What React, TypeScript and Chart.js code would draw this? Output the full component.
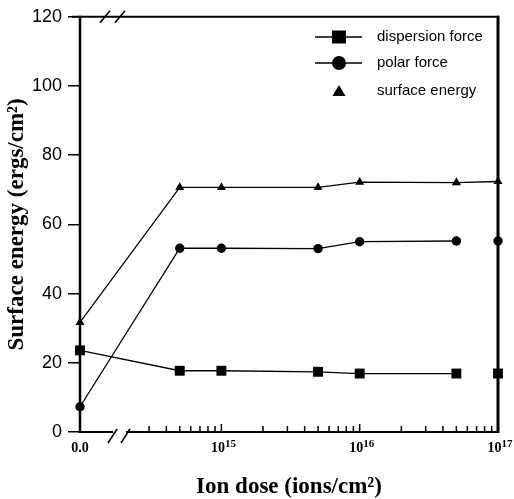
import { useEffect, useRef } from 'react';
import { Chart, registerables } from 'chart.js';

Chart.register(...registerables);

// ---- data ----
const doses = [0, 5e14, 1e15, 5e15, 1e16, 5e16, 1e17];
const dispersionForce = [23.6, 17.7, 17.7, 17.4, 16.9, 16.9, 16.9];
const polarForce = [7.3, 53.1, 53.1, 53.0, 55.0, 55.2, 55.2];
const surfaceEnergy = [31.7, 70.7, 70.7, 70.7, 72.2, 72.1, 72.4];
const yTicks = [0, 20, 40, 60, 80, 100, 120];
const xMajorTicks = [1e15, 1e16, 1e17];
const xMajorBases = ['10', '10', '10'];
const xMajorExponents = ['15', '16', '17'];
const xZeroLabel = '0.0';
const legendLabels = ['dispersion force', 'polar force', 'surface energy'];

// where the "0.0" dose sits on the broken log axis (left of the break)
const X_ZERO = 9.5e13;
const X_MAX = 1e17;

const SERIF = "'Liberation Serif', 'Times New Roman', serif";
const SANS = "'Liberation Sans', Arial, sans-serif";

const toPoints = (ys: number[]) =>
  doses.map((d, i) => ({ x: d === 0 ? X_ZERO : d, y: ys[i] }));

const framePlugin = {
  id: 'frame',
  beforeDatasetsDraw(chart: any) {
    const { ctx, chartArea } = chart;
    const { left, right, top, bottom } = chartArea;
    const xs = chart.scales.x;
    ctx.save();
    ctx.strokeStyle = '#000';
    ctx.lineCap = 'butt';
    const line = (x1: number, y1: number, x2: number, y2: number) => {
      ctx.beginPath();
      ctx.moveTo(x1, y1);
      ctx.lineTo(x2, y2);
      ctx.stroke();
    };
    // top border
    ctx.lineWidth = 2;
    line(left - 8, top, right + 1, top);
    // left axis
    ctx.lineWidth = 2.5;
    line(left, top - 1, left, bottom + 1);
    // right border
    ctx.lineWidth = 3;
    line(right, top - 1, right, bottom + 1);
    // bottom axis with break
    ctx.lineWidth = 2;
    line(left, bottom, left + 33, bottom);
    line(left + 46, bottom, right + 1, bottom);
    // break slashes
    ctx.lineWidth = 1.6;
    line(left + 28, bottom + 11, left + 37, bottom - 3);
    line(left + 41, bottom + 11, left + 50, bottom - 3);
    line(left + 20, top + 6, left + 30, top - 6);
    line(left + 35, top + 6, left + 45, top - 6);
    // x tick marks (inward)
    ctx.lineWidth = 1.5;
    for (let e = 14; e <= 16; e++) {
      for (let m = 1; m <= 9; m++) {
        const v = m * Math.pow(10, e);
        if (v < 2.8e14 || v >= X_MAX) continue;
        const px = xs.getPixelForValue(v);
        const len = m === 1 ? 8 : 6;
        line(px, bottom, px, bottom - len);
      }
    }
    // x tick labels with real superscripts
    ctx.fillStyle = '#000';
    ctx.textBaseline = 'alphabetic';
    ctx.textAlign = 'left';
    const baseY = bottom + 20;
    const baseFont = `bold 14px ${SERIF}`;
    const supFont = `bold 11px ${SERIF}`;
    ctx.font = baseFont;
    const zx = xs.getPixelForValue(X_ZERO);
    const zw = ctx.measureText(xZeroLabel).width;
    ctx.fillText(xZeroLabel, zx - zw / 2, baseY);
    xMajorTicks.forEach((v, i) => {
      const px = xs.getPixelForValue(v);
      ctx.font = baseFont;
      const bw = ctx.measureText(xMajorBases[i]).width;
      ctx.font = supFont;
      const sw = ctx.measureText(xMajorExponents[i]).width;
      const x0 = px - (bw + sw) / 2 + 2;
      ctx.font = baseFont;
      ctx.fillText(xMajorBases[i], x0, baseY);
      ctx.font = supFont;
      ctx.fillText(xMajorExponents[i], x0 + bw, baseY - 5);
    });
    ctx.restore();
  },
};

const legendPlugin = {
  id: 'customLegend',
  afterDraw(chart: any) {
    const { ctx } = chart;
    ctx.save();
    ctx.fillStyle = '#000';
    ctx.strokeStyle = '#000';
    const rows = [37, 63, 91];
    const mx = 339;
    rows.forEach((y, i) => {
      if (i < 2) {
        ctx.lineWidth = 1.6;
        ctx.beginPath();
        ctx.moveTo(315, y);
        ctx.lineTo(362, y);
        ctx.stroke();
      }
      ctx.beginPath();
      if (i === 0) {
        ctx.rect(mx - 7, y - 6.5, 14, 13);
      } else if (i === 1) {
        ctx.arc(mx, y, 7, 0, Math.PI * 2);
      } else {
        ctx.moveTo(mx, y - 6);
        ctx.lineTo(mx + 6.5, y + 5);
        ctx.lineTo(mx - 6.5, y + 5);
        ctx.closePath();
      }
      ctx.fill();
      ctx.font = `15px ${SANS}`;
      ctx.textBaseline = 'middle';
      ctx.textAlign = 'left';
      ctx.fillText(legendLabels[i], 377, y);
    });
    ctx.restore();
  },
};

export default function App() {
  const ref = useRef<HTMLCanvasElement | null>(null);

  useEffect(() => {
    if (!ref.current) return;
    const lastGap = (ctx: any) => (ctx.p1DataIndex === doses.length - 1 ? 'rgba(0,0,0,0)' : '#000');
    const common = {
      borderColor: '#000',
      backgroundColor: '#000',
      borderWidth: 1.3,
      pointBorderWidth: 0,
      clip: false,
    };
    const chart = new Chart(ref.current, {
      type: 'line',
      data: {
        datasets: [
          {
            ...common,
            label: legendLabels[0],
            data: toPoints(dispersionForce),
            pointStyle: 'rect',
            pointRadius: 7,
            segment: { borderColor: lastGap },
          },
          {
            ...common,
            label: legendLabels[1],
            data: toPoints(polarForce),
            pointStyle: 'circle',
            pointRadius: 4.7,
            segment: { borderColor: lastGap },
          },
          {
            ...common,
            label: legendLabels[2],
            data: toPoints(surfaceEnergy),
            pointStyle: 'triangle',
            pointRadius: 5.2,
          },
        ],
      },
      options: {
        animation: false,
        responsive: false,
        devicePixelRatio: 1,
        layout: { padding: { left: 0, top: 14, right: 16, bottom: 0 } },
        plugins: { legend: { display: false }, tooltip: { enabled: false } },
        elements: { line: { tension: 0 } },
        scales: {
          x: {
            type: 'logarithmic',
            min: X_ZERO,
            max: X_MAX,
            afterBuildTicks: (scale: any) => {
              scale.ticks = [X_ZERO, ...xMajorTicks].map((v) => ({ value: v }));
            },
            afterFit: (scale: any) => {
              scale.height = 67;
              scale.paddingLeft = 0;
              scale.paddingRight = 0;
            },
            border: { display: false },
            grid: { display: false, drawTicks: false },
            ticks: { display: false },
            title: {
              display: true,
              text: 'Ion dose (ions/cm²)',
              color: '#000',
              font: { family: SERIF, size: 23, weight: 'bold', lineHeight: 1.0 },
              padding: { top: 0, bottom: 0 },
            },
          },
          y: {
            type: 'linear',
            min: 0,
            max: 120,
            afterBuildTicks: (scale: any) => {
              scale.ticks = yTicks.map((v) => ({ value: v }));
            },
            afterFit: (scale: any) => {
              scale.width = 80;
            },
            border: { display: false },
            grid: {
              display: true,
              drawOnChartArea: false,
              drawTicks: true,
              tickLength: 12,
              color: '#000',
              lineWidth: 1.5,
            },
            ticks: {
              padding: 6,
              color: '#000',
              font: { family: SANS, size: 18 },
            },
            title: {
              display: true,
              text: 'Surface energy (ergs/cm²)',
              color: '#000',
              font: { family: SERIF, size: 23, weight: 'bold', lineHeight: 1.2 },
              padding: { top: 3, bottom: 0 },
            },
          },
        },
      } as any,
      plugins: [framePlugin, legendPlugin],
    });
    return () => chart.destroy();
  }, []);

  return (
    <div style={{ position: 'absolute', left: 0, top: 0, width: 514, height: 499, background: '#fff' }}>
      <canvas ref={ref} width={514} height={499} style={{ width: 514, height: 499 }} />
    </div>
  );
}
